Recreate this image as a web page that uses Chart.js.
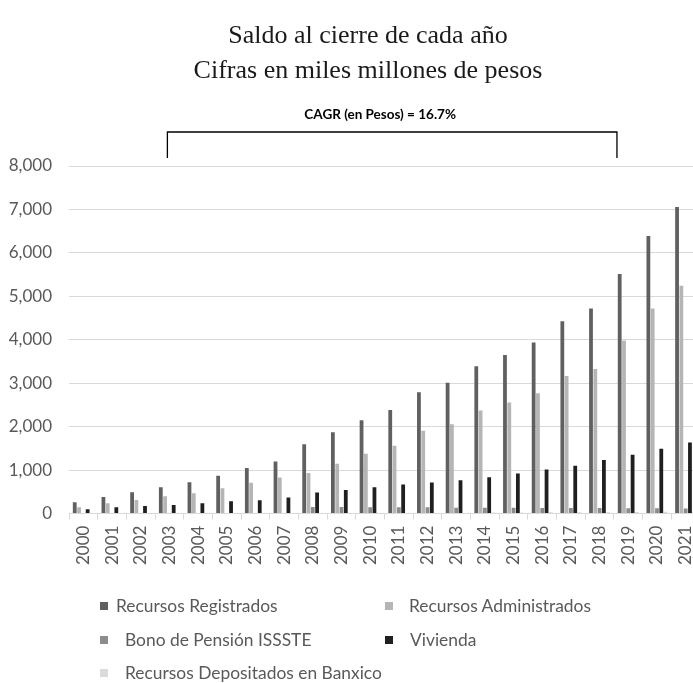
<!DOCTYPE html>
<html>
<head>
<meta charset="utf-8">
<script src="https://cdn.jsdelivr.net/npm/chart.js@4.4.1/dist/chart.umd.min.js"></script>
<style>
  html, body { margin: 0; padding: 0; background: #fff; overflow: hidden; width: 693px; height: 683px; }
  #wrap { position: absolute; left: 0; top: 0; width: 740px; height: 683px; }
  #legend { position: absolute; left: 0; top: 0; width: 693px; height: 683px; pointer-events: none;
            font-family: Lato, "Open Sans", sans-serif; font-size: 17.4px; color: #595959; }
  .li { position: absolute; white-space: nowrap; line-height: 20px; }
  .sw { position: absolute; width: 8px; height: 8px; }
</style>
</head>
<body>
<div id="wrap"><canvas id="c" width="740" height="683"></canvas></div>
<div id="legend"></div>
<script>
const years = ['2000','2001','2002','2003','2004','2005','2006','2007','2008','2009','2010',
               '2011','2012','2013','2014','2015','2016','2017','2018','2019','2020','2021'];
const registrados   = [261,383,492,607,723,868,1046,1201,1594,1871,2148,2386,2794,3009,3388,3649,3940,4427,4718,5513,6388,7058];
const administrados = [145,238,314,400,468,584,707,831,931,1146,1376,1561,1908,2055,2373,2554,2771,3164,3326,3982,4718,5243];
const bonoIssste    = [0,0,0,0,0,0,0,0,152,152,146,146,146,136,136,136,129,129,129,122,122,115];
const vivienda      = [99,145,176,199,238,284,307,369,485,545,607,669,716,769,838,923,1016,1101,1231,1356,1494,1633];
const banxico       = [0,0,0,0,0,0,0,0,10,10,12,12,15,15,25,25,30,30,30,35,40,40];
const yTicks = [0,1000,2000,3000,4000,5000,6000,7000,8000];
const seriesNames = ['Recursos Registrados','Recursos Administrados','Bono de Pensión ISSSTE','Vivienda','Recursos Depositados en Banxico'];
const seriesColors = ['#606060','#b5b5b5','#8c8c8c','#1f1f1f','#dadada'];
const titleLines = ['Saldo al cierre de cada año','Cifras en miles millones de pesos'];
const cagrText = 'CAGR (en Pesos) = 16.7%';
const cagrFrom = '2003';
const cagrTo = '2018';

const seriesData = [registrados, administrados, bonoIssste, vivienda, banxico];

const annotationPlugin = {
  id: 'annot',
  afterDraw(chart) {
    const ctx = chart.ctx;
    const x = chart.scales.x;
    const top = chart.chartArea.top;
    ctx.save();
    // title (two lines)
    ctx.fillStyle = '#1a1a1a';
    ctx.font = '26px "Liberation Serif", "DejaVu Serif", serif';
    ctx.textAlign = 'center';
    ctx.textBaseline = 'middle';
    titleLines.forEach((t, i) => ctx.fillText(t, 368, 36 + i * 35));
    // CAGR bracket
    const i0 = years.indexOf(cagrFrom), i1 = years.indexOf(cagrTo);
    const left = x.getPixelForValue(i0) - 2;
    const right = (x.getPixelForValue(i1) + x.getPixelForValue(i1 + 1)) / 2 + 3;
    ctx.strokeStyle = '#000';
    ctx.lineWidth = 1.3;
    ctx.beginPath();
    ctx.moveTo(left, top - 8);
    ctx.lineTo(left, top - 34);
    ctx.lineTo(right, top - 34);
    ctx.lineTo(right, top - 8);
    ctx.stroke();
    ctx.fillStyle = '#000';
    ctx.font = 'bold 13.5px Lato, "Open Sans", sans-serif';
    ctx.fillText(cagrText, (left + right) / 2 - 12, top - 51);
    ctx.restore();
  }
};

new Chart(document.getElementById('c'), {
  type: 'bar',
  data: {
    labels: years,
    datasets: seriesData.map((d, i) => ({
      label: seriesNames[i],
      data: d,
      backgroundColor: seriesColors[i],
      borderWidth: 0,
      categoryPercentage: 0.75,
      barPercentage: 0.88
    }))
  },
  options: {
    responsive: false,
    animation: false,
    layout: { padding: { left: 9, right: 40, top: 166, bottom: 112 } },
    plugins: {
      legend: { display: false },
      tooltip: { enabled: false },
      title: { display: false }
    },
    scales: {
      x: {
        grid: { display: true, offset: true, drawOnChartArea: false, color: '#d9d9d9', tickLength: 6 },
        border: { display: true, color: '#d9d9d9' },
        ticks: { color: '#595959', font: { family: 'Lato, "Open Sans", sans-serif', size: 17 },
                 maxRotation: 90, minRotation: 90, padding: 6, autoSkip: false }
      },
      y: {
        min: 0, max: 8000,
        afterBuildTicks(axis) { axis.ticks = yTicks.map(v => ({ value: v })); },
        afterFit(axis) { axis.width = 60; },
        grid: { color: '#d9d9d9', drawTicks: false, lineWidth: 1 },
        border: { display: false },
        ticks: { color: '#595959', font: { family: 'Lato, "Open Sans", sans-serif', size: 17 }, padding: 17,
                 callback: v => v.toLocaleString('en-US') }
      }
    }
  },
  plugins: [annotationPlugin]
});

// HTML legend (two columns)
const legendLayout = [
  { i: 0, sx: 100, tx: 116, y: 596 },
  { i: 1, sx: 385, tx: 409, y: 596 },
  { i: 2, sx: 100, tx: 125, y: 630 },
  { i: 3, sx: 385, tx: 410, y: 630 },
  { i: 4, sx: 100, tx: 125, y: 663 }
];
const lg = document.getElementById('legend');
legendLayout.forEach(p => {
  const sw = document.createElement('div');
  sw.className = 'sw';
  sw.style.left = p.sx + 'px';
  sw.style.top = (p.y + 6) + 'px';
  sw.style.background = seriesColors[p.i];
  lg.appendChild(sw);
  const t = document.createElement('div');
  t.className = 'li';
  t.style.left = p.tx + 'px';
  t.style.top = p.y + 'px';
  t.textContent = seriesNames[p.i];
  lg.appendChild(t);
});
</script>
</body>
</html>
